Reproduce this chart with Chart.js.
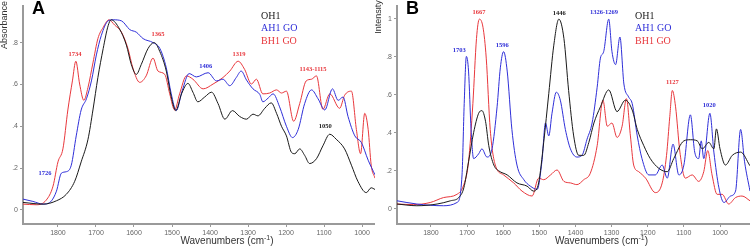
<!DOCTYPE html>
<html>
<head>
<meta charset="utf-8">
<script src="https://cdn.jsdelivr.net/npm/chart.js@4.4.1/dist/chart.umd.min.js"></script>
<style>
  body { margin: 0; background: #fff; }
  .wrap { display: flex; width: 750px; height: 247px; }
  .panel { position: relative; width: 375px; height: 247px; }
</style>
</head>
<body>
<div class="wrap">
  <div class="panel"><canvas id="chartA"></canvas></div>
  <div class="panel"><canvas id="chartB"></canvas></div>
</div>
<script>
// ---- datos panel A (absorbancia) ----
const A_OH1_WN = [1892,1839,1804,1778,1756,1739,1721,1708,1695,1681,1668,1660,1638,1620,1607,1594,1581,1563,1547,1532,1515,1502,1490,1475,1458,1445,1432,1414,1396,1379,1361,1341,1322,1304,1287,1274,1256,1239,1225,1212,1199,1186,1177,1164,1151,1138,1120,1103,1085,1068,1046,1028,1011,989,976,966];
const A_OH1 = [0.036,0.028,0.044,0.075,0.137,0.230,0.338,0.478,0.633,0.772,0.881,0.909,0.865,0.788,0.695,0.648,0.695,0.772,0.800,0.757,0.664,0.540,0.475,0.555,0.605,0.563,0.517,0.540,0.563,0.509,0.434,0.475,0.447,0.434,0.458,0.450,0.486,0.512,0.462,0.400,0.354,0.276,0.269,0.292,0.261,0.222,0.245,0.307,0.362,0.338,0.292,0.214,0.137,0.083,0.106,0.098];

const A_AH1_WN = [1892,1866,1839,1817,1804,1791,1778,1765,1752,1739,1725,1712,1699,1686,1668,1655,1633,1611,1594,1576,1550,1532,1515,1502,1489,1473,1455,1436,1405,1383,1366,1348,1331,1318,1304,1287,1269,1261,1247,1234,1217,1199,1183,1168,1151,1133,1116,1098,1078,1063,1050,1037,1019,1002,984,966];
const A_AH1 = [0.052,0.041,0.028,0.044,0.090,0.176,0.183,0.214,0.354,0.478,0.532,0.617,0.741,0.834,0.904,0.909,0.904,0.862,0.850,0.819,0.800,0.772,0.679,0.555,0.475,0.571,0.652,0.636,0.656,0.617,0.625,0.594,0.633,0.664,0.621,0.579,0.552,0.517,0.535,0.555,0.493,0.400,0.346,0.385,0.509,0.574,0.532,0.478,0.579,0.524,0.540,0.447,0.354,0.323,0.238,0.168];

const A_BH1_WN = [1892,1857,1831,1813,1800,1787,1774,1762,1753,1743,1732,1721,1708,1695,1681,1666,1651,1633,1616,1603,1585,1568,1550,1537,1519,1506,1493,1480,1462,1445,1418,1392,1366,1348,1326,1309,1291,1278,1261,1243,1225,1212,1199,1180,1164,1147,1133,1120,1103,1085,1059,1046,1028,1015,1004,993,984,976,966];
const A_BH1 = [0.028,0.025,0.047,0.114,0.230,0.292,0.478,0.617,0.711,0.602,0.524,0.586,0.703,0.819,0.873,0.909,0.884,0.850,0.772,0.679,0.610,0.641,0.726,0.664,0.648,0.555,0.478,0.555,0.641,0.625,0.579,0.602,0.633,0.664,0.711,0.672,0.602,0.625,0.555,0.559,0.574,0.559,0.568,0.424,0.509,0.617,0.625,0.641,0.481,0.555,0.486,0.548,0.568,0.385,0.269,0.462,0.385,0.214,0.152];

// ---- datos panel B (intensidad) ----
const B_OH1_WN = [1894,1839,1783,1746,1723,1709,1696,1682,1668,1659,1649,1640,1626,1612,1589,1562,1534,1516,1502,1488,1474,1460,1446,1432,1419,1405,1391,1377,1363,1349,1331,1308,1285,1262,1243,1229,1211,1193,1169,1146,1128,1100,1082,1063,1049,1031,1017,1010,1000,985,966,943,917];
const B_OH1 = [0.026,0.017,0.026,0.043,0.060,0.111,0.248,0.401,0.503,0.517,0.461,0.333,0.231,0.200,0.179,0.137,0.120,0.094,0.137,0.350,0.606,0.861,0.998,0.896,0.623,0.384,0.282,0.282,0.350,0.452,0.537,0.626,0.512,0.572,0.520,0.418,0.333,0.265,0.213,0.196,0.265,0.358,0.364,0.358,0.316,0.350,0.316,0.421,0.316,0.231,0.282,0.299,0.227];

const B_AH1_WN = [1894,1839,1765,1728,1714,1708,1702,1696,1689,1682,1668,1659,1645,1631,1617,1608,1599,1589,1576,1562,1543,1525,1506,1493,1483,1474,1465,1453,1442,1428,1414,1396,1382,1368,1354,1340,1331,1322,1308,1299,1289,1277,1266,1253,1243,1229,1216,1197,1179,1160,1146,1130,1114,1100,1082,1070,1059,1052,1045,1028,1017,1003,989,971,957,943,932,917];
const B_AH1 = [0.043,0.026,0.017,0.034,0.179,0.554,0.802,0.725,0.418,0.265,0.290,0.316,0.273,0.316,0.537,0.742,0.827,0.725,0.418,0.231,0.154,0.120,0.103,0.248,0.452,0.384,0.503,0.614,0.572,0.418,0.316,0.273,0.282,0.367,0.452,0.640,0.793,0.827,0.998,0.827,0.759,0.904,0.657,0.589,0.554,0.384,0.265,0.179,0.179,0.231,0.162,0.341,0.179,0.231,0.495,0.299,0.265,0.358,0.265,0.503,0.299,0.111,0.034,0.068,0.094,0.418,0.248,0.094];

const B_BH1_WN = [1894,1848,1802,1765,1728,1709,1696,1684,1674,1666,1656,1647,1636,1622,1599,1571,1548,1520,1502,1488,1469,1451,1432,1414,1396,1377,1359,1340,1324,1312,1299,1285,1271,1259,1248,1239,1225,1206,1179,1160,1148,1139,1132,1123,1111,1096,1077,1059,1045,1034,1022,1008,994,976,957,939,917];
const B_BH1 = [0.026,0.023,0.034,0.060,0.077,0.128,0.248,0.554,0.896,0.998,0.955,0.793,0.418,0.231,0.179,0.137,0.094,0.068,0.162,0.154,0.179,0.205,0.145,0.137,0.128,0.154,0.188,0.333,0.572,0.435,0.452,0.376,0.435,0.580,0.384,0.231,0.196,0.162,0.086,0.137,0.282,0.486,0.623,0.537,0.299,0.162,0.179,0.145,0.196,0.307,0.179,0.077,0.077,0.026,0.060,0.068,0.043];

const X_TICKS = [1800,1700,1600,1500,1400,1300,1200,1100,1000];
const A_Y_TICKS = [0,0.2,0.4,0.6,0.8];
const B_Y_TICKS = [0,0.2,0.4,0.6,0.8,1];

const SERIES = ['OH1','AH1 GO','BH1 GO'];
const COLORS = ['#1a1a1a','#2f2fd8','#e8383d'];

// etiquetas de picos: [texto, número de onda, valor, color]
const A_PEAKS = [['1726',1834,0.174,1],['1734',1755,0.746,2],['1365',1537,0.840,2],['1406',1411,0.686,1],['1319',1324,0.742,2],['1143-1115',1129,0.672,2],['1050',1097,0.402,0]];
const B_PEAKS = [['1703',1722,0.836,1],['1667',1667,1.036,2],['1596',1603,0.862,1],['1446',1445,1.026,0],['1326-1269',1321,1.036,1],['1127',1132,0.667,2],['1020',1030,0.545,1]];

const pts = (wn, v) => wn.map((x, i) => ({ x, y: v[i] }));

function decor(letter, yTitle, peaks, yTitleY) {
    return {
        id: 'decor' + letter,
        afterDraw(chart) {
            const ctx = chart.ctx;
            const { left, right, bottom } = chart.chartArea;
            const xs = chart.scales.x, ys = chart.scales.y;
            ctx.save();
            // letra del panel
            ctx.fillStyle = '#000';
            ctx.font = 'bold 18px "Liberation Sans", Arial, sans-serif';
            ctx.textAlign = 'left';
            ctx.textBaseline = 'top';
            ctx.fillText(letter, left + 9, 0);
            // leyenda
            ctx.font = '10px "Liberation Serif", "Times New Roman", serif';
            ctx.textBaseline = 'middle';
            SERIES.forEach((s, i) => {
                ctx.fillStyle = COLORS[i];
                ctx.fillText(s, left + 238, 16 + i * 12.5);
            });
            // picos
            ctx.font = 'bold 6.5px "Liberation Serif", "Times New Roman", serif';
            ctx.textAlign = 'center';
            peaks.forEach(p => {
                ctx.fillStyle = COLORS[p[3]];
                ctx.fillText(p[0], xs.getPixelForValue(p[1]), ys.getPixelForValue(p[2]));
            });
            // título eje x con superíndice
            ctx.fillStyle = '#333';
            ctx.textAlign = 'left';
            ctx.textBaseline = 'alphabetic';
            const cx = (left + right) / 2 + 28;
            const t1 = 'Wavenumbers (cm', t2 = '-1', t3 = ')';
            ctx.font = '10px "Liberation Sans", Arial, sans-serif';
            const w1 = ctx.measureText(t1).width, w3 = ctx.measureText(t3).width;
            ctx.font = '7px "Liberation Sans", Arial, sans-serif';
            const w2 = ctx.measureText(t2).width;
            const x0 = cx - (w1 + w2 + w3) / 2;
            const by = bottom + 20;
            ctx.font = '10px "Liberation Sans", Arial, sans-serif';
            ctx.fillText(t1, x0, by);
            ctx.font = '7px "Liberation Sans", Arial, sans-serif';
            ctx.fillText(t2, x0 + w1, by - 4);
            ctx.font = '10px "Liberation Sans", Arial, sans-serif';
            ctx.fillText(t3, x0 + w1 + w2, by);
            // título eje y
            ctx.translate(left - 18, yTitleY);
            ctx.rotate(-Math.PI / 2);
            ctx.textAlign = 'center';
            ctx.textBaseline = 'middle';
            ctx.font = '9px "Liberation Sans", Arial, sans-serif';
            ctx.fillText(yTitle, 0, 0);
            ctx.restore();
        }
    };
}

function makeChart(id, letter, data, yMin, yMax, yTicks, xMin, xMax, yTitle, peaks, yTitleY, yWidth) {
    const fmt = v => v === 0 ? '0' : (v === 1 ? '1' : v.toFixed(1).replace(/^0/, ''));
    const tickFont = { family: '"Liberation Sans", Arial, sans-serif', size: 7 };
    new Chart(document.getElementById(id), {
        type: 'line',
        data: {
            datasets: data.map((d, i) => ({
                label: SERIES[i],
                data: d,
                borderColor: COLORS[i],
                borderWidth: 1,
                pointRadius: 0,
                cubicInterpolationMode: 'monotone',
                fill: false
            }))
        },
        options: {
            responsive: true,
            maintainAspectRatio: false,
            animation: false,
            layout: { padding: 0 },
            plugins: { legend: { display: false }, tooltip: { enabled: false } },
            scales: {
                x: {
                    type: 'linear',
                    reverse: true,
                    min: xMin,
                    max: xMax,
                    afterBuildTicks: s => { s.ticks = X_TICKS.map(v => ({ value: v })); },
                    afterFit: s => { s.height = 23; },
                    grid: { drawOnChartArea: false, tickLength: 3, color: '#999' },
                    border: { color: '#9a9a9a', width: 2 },
                    ticks: { color: '#666', font: tickFont, padding: 2, maxRotation: 0, autoSkip: false, callback: v => String(v) }
                },
                y: {
                    min: yMin,
                    max: yMax,
                    afterBuildTicks: s => { s.ticks = yTicks.map(v => ({ value: v })); },
                    afterFit: s => { s.width = yWidth; },
                    grid: { drawOnChartArea: false, tickLength: 3, color: '#999' },
                    border: { color: '#9a9a9a', width: 2 },
                    ticks: { color: '#666', font: tickFont, padding: 2, callback: fmt }
                }
            }
        },
        plugins: [decor(letter, yTitle, peaks, yTitleY)]
    });
}

makeChart('chartA', 'A', [pts(A_OH1_WN, A_OH1), pts(A_AH1_WN, A_AH1), pts(A_BH1_WN, A_BH1)],
    -0.067, 0.974, A_Y_TICKS, 966, 1892, 'Absorbance', A_PEAKS, 25, 23);
makeChart('chartB', 'B', [pts(B_OH1_WN, B_OH1), pts(B_AH1_WN, B_AH1), pts(B_BH1_WN, B_BH1)],
    -0.079, 1.066, B_Y_TICKS, 917, 1894, 'Intensity', B_PEAKS, 17, 22);
</script>
</body>
</html>
